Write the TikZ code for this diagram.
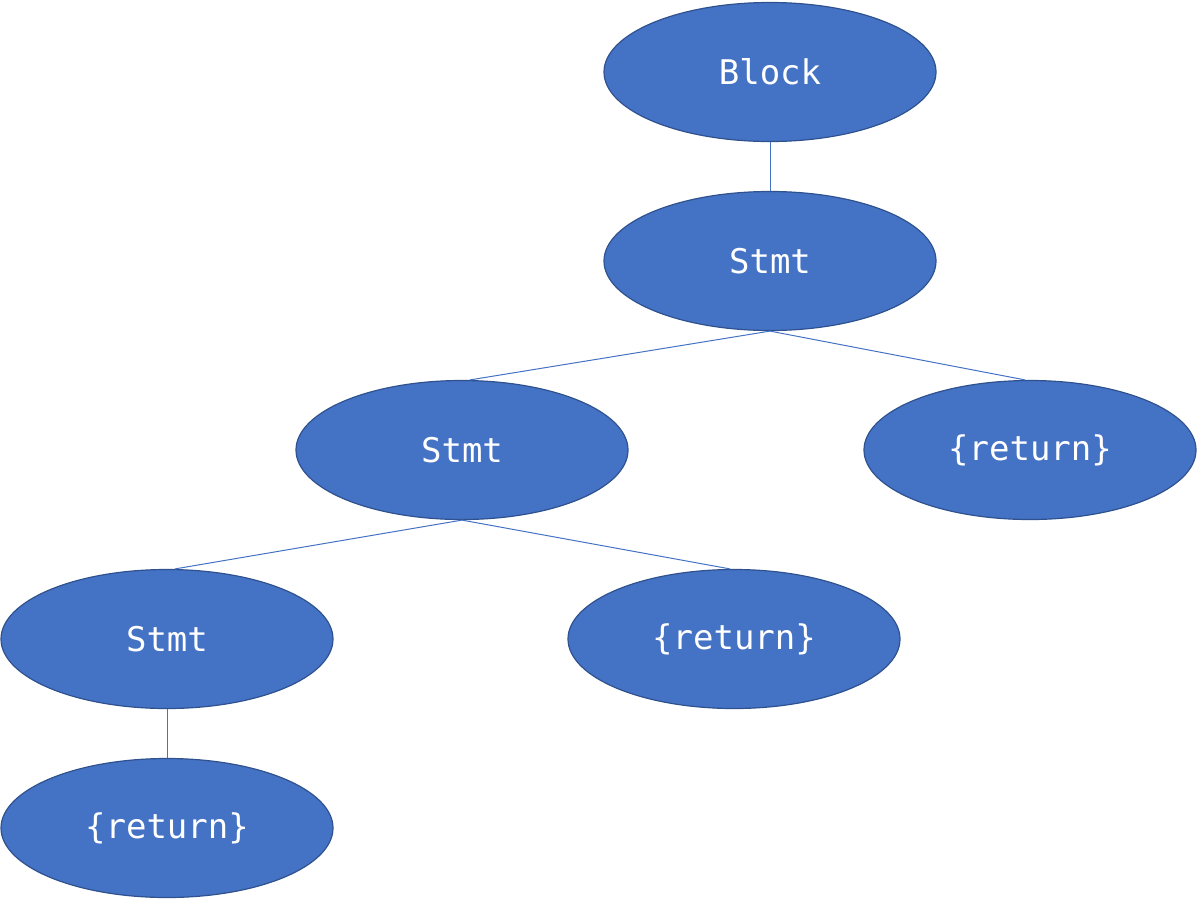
\documentclass[tikz,border=0pt]{standalone}
\usepackage{fontspec}
\setmonofont{DejaVu Sans Mono}
\usetikzlibrary{shapes.geometric}
\definecolor{nodefill}{HTML}{4472C4}
\definecolor{nodeedge}{HTML}{2F528F}
\definecolor{linkcol}{HTML}{4472C4}
\begin{document}
\begin{tikzpicture}[x=1pt,y=-1pt,
  tnode/.style={ellipse, draw=nodeedge, line width=1.2pt, fill=nodefill,
    minimum width=332pt, minimum height=139pt, inner sep=0pt,
    text=white, font=\ttfamily\fontsize{34}{40}\selectfont},
  link/.style={draw=linkcol, line width=1pt}]
\useasboundingbox (0,0) rectangle (1197,898);
\node[tnode] (block) at (770,72) {Block};
\node[tnode] (s1) at (770,261) {Stmt};
\node[tnode] (s2) at (462,450) {Stmt};
\node[tnode] (r1) at (1030,450) {\{return\}};
\node[tnode] (s3) at (167,639) {Stmt};
\node[tnode] (r2) at (734,639) {\{return\}};
\node[tnode] (r3) at (167,828) {\{return\}};
\draw[link] (block.south) -- (s1.north);
\draw[link] (s1.south) -- ([xshift=8pt]s2.north);
\draw[link] (s1.south) -- ([xshift=-5pt]r1.north);
\draw[link] (s2.south) -- ([xshift=8pt]s3.north);
\draw[link] (s2.south) -- ([xshift=-4pt]r2.north);
\draw[link] (s3.south) -- (r3.north);
\end{tikzpicture}
\end{document}
